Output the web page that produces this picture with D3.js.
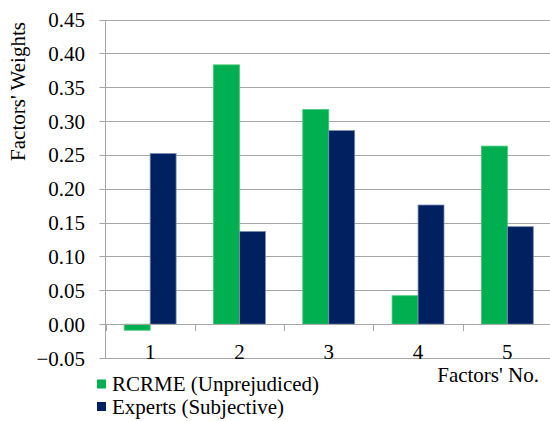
<!DOCTYPE html>
<html>
<head>
<meta charset="utf-8">
<script src="https://cdn.jsdelivr.net/npm/d3@7"></script>
<style>
  html, body { margin: 0; padding: 0; background: #fff; }
  svg { display: block; }
</style>
</head>
<body>
<script>
// ---- data ----
const categories = ["1", "2", "3", "4", "5"];
const seriesNames = ["RCRME (Unprejudiced)", "Experts (Subjective)"];
const rcrme = [-0.009, 0.383, 0.317, 0.042, 0.263];
const experts = [0.252, 0.137, 0.286, 0.176, 0.144];
const yTicks = [-0.05, 0, 0.05, 0.10, 0.15, 0.20, 0.25, 0.30, 0.35, 0.40, 0.45];
const yTitle = "Factors' Weights";
const xTitle = "Factors' No.";
const colors = ["#00B050", "#002060"];
const edgeColors = ["#45c878", "#7d8fb5"];

const W = 550, H = 421;
const FS = 21;
const FONT = "Liberation Serif";

const svg = d3.select("body").append("svg").attr("width", W).attr("height", H)
  .attr("font-family", FONT);

const plotL = 105.5, plotR = 552, plotT = 19.5, plotB = 358;

const y = d3.scaleLinear().domain([-0.05, 0.45]).range([plotB, plotT]);
const x0 = d3.scaleBand().domain(categories).range([plotL, plotR]).paddingInner(0).paddingOuter(0);
const x1 = d3.scaleBand().domain(seriesNames).range([0, x0.bandwidth()]).paddingInner(0).paddingOuter(0.72);

function txt(sel) {
  return sel.attr("font-family", FONT).attr("font-size", FS).attr("fill", "#000");
}

// gridlines
svg.append("g").selectAll("line").data(yTicks).join("line")
  .attr("x1", plotL - 6).attr("x2", plotR)
  .attr("y1", d => Math.round(y(d)) + 0.5).attr("y2", d => Math.round(y(d)) + 0.5)
  .attr("stroke", "#a6a6a6").attr("stroke-width", 1);

// y axis line
svg.append("line")
  .attr("x1", plotL).attr("x2", plotL)
  .attr("y1", Math.round(y(0.45)) + 0.5).attr("y2", Math.round(y(-0.05)) + 0.5)
  .attr("stroke", "#a6a6a6");

// bars
const data = categories.map((c, i) => ({ cat: c, vals: [rcrme[i], experts[i]] }));
const groups = svg.append("g").selectAll("g").data(data).join("g")
  .attr("transform", d => `translate(${x0(d.cat)},0)`);
groups.selectAll("rect").data(d => d.vals.map((v, j) => ({ v, j, name: seriesNames[j] }))).join("rect")
  .attr("x", d => x1(d.name))
  .attr("width", x1.bandwidth())
  .attr("y", d => y(Math.max(0, d.v)))
  .attr("height", d => Math.abs(y(d.v) - y(0)))
  .attr("fill", d => colors[d.j])
  .attr("stroke", d => edgeColors[d.j]).attr("stroke-width", 0.8);

// category axis (zero line) and ticks
svg.append("line")
  .attr("x1", plotL).attr("x2", plotR)
  .attr("y1", Math.round(y(0)) + 0.5).attr("y2", Math.round(y(0)) + 0.5)
  .attr("stroke", "#a6a6a6");
svg.append("g").selectAll("line").data(categories).join("line")
  .attr("x1", d => Math.round(x0(d)) + 0.5).attr("x2", d => Math.round(x0(d)) + 0.5)
  .attr("y1", y(0)).attr("y2", y(0) + 7)
  .attr("stroke", "#a6a6a6");

// y tick labels
const yFmt = d3.format(".2f");
svg.append("g").selectAll("text").data(yTicks).join("text")
  .call(txt)
  .attr("x", 85).attr("y", d => y(d) + 7.5)
  .attr("text-anchor", "end")
  .text(d => yFmt(d));

// category labels
svg.append("g").selectAll("text").data(categories).join("text")
  .call(txt)
  .attr("x", d => x0(d) + x0.bandwidth() / 2).attr("y", 359)
  .attr("text-anchor", "middle")
  .text(d => d);

// axis titles
svg.append("text").call(txt)
  .attr("transform", "translate(25,91.5) rotate(-90)")
  .attr("text-anchor", "middle")
  .text(yTitle);

svg.append("text").call(txt)
  .attr("x", 539).attr("y", 382)
  .attr("text-anchor", "end")
  .text(xTitle);

// legend
const leg = svg.append("g").selectAll("g").data(seriesNames).join("g")
  .attr("transform", (d, i) => `translate(97,${379.5 + i * 22.5})`);
leg.append("rect").attr("width", 9).attr("height", 9).attr("fill", (d, i) => colors[i]);
leg.append("text").call(txt).attr("x", 15).attr("y", 11.5)
  .text(d => d);
</script>
</body>
</html>
